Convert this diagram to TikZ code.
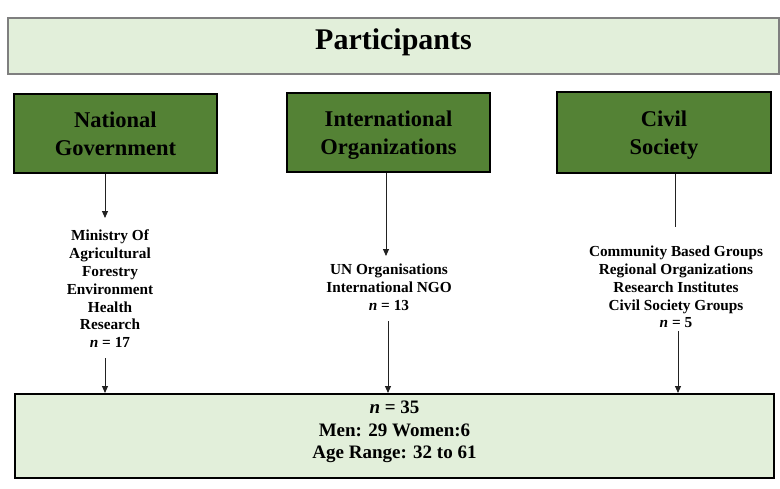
\documentclass[tikz,border=0pt]{standalone}
\usepackage{fontspec}
\setmainfont{Liberation Serif}
\usetikzlibrary{arrows.meta}
\definecolor{paleg}{HTML}{E2EFDA}
\definecolor{darkg}{HTML}{548235}
\definecolor{edgegray}{HTML}{7F7F7F}
\definecolor{linec}{HTML}{222222}
\tikzset{
  titlebox/.style={draw=edgegray, line width=1.4pt, fill=paleg, minimum width=771pt, minimum height=56pt, inner sep=0pt},
  groupbox/.style={draw=black, line width=2pt, fill=darkg, minimum height=79pt, inner sep=0pt, align=center,
     text depth=0pt, font=\fontsize{22.5}{28}\selectfont\bfseries},
  listtext/.style={align=center, inner sep=0pt, font=\fontsize{15.3}{17.8}\selectfont\bfseries},
  totalbox/.style={draw=black, line width=2pt, fill=paleg, minimum width=759pt, minimum height=84pt, inner sep=0pt,
     align=center, font=\fontsize{19}{22.5}\selectfont\bfseries},
  arr/.style={draw=linec, line width=0.9pt, -{Triangle[width=6pt,length=7pt]}},
  plain/.style={draw=linec, line width=0.9pt}
}
\begin{document}
\begin{tikzpicture}[x=1pt,y=-1pt]
\useasboundingbox (0,0) rectangle (780,488);
\fill[white] (0,0) rectangle (780,488);

\node[titlebox, text height=20pt, text depth=14pt, font=\fontsize{30}{34}\selectfont\bfseries] (title) at (393.5,46) {Participants};

\node[groupbox, minimum width=203pt] (nat) at (115.5,133.5) {National\\Government};
\node[groupbox, minimum width=203pt] (intl) at (388.5,132.5) {International\\Organizations};
\node[groupbox, minimum width=214pt, minimum height=81pt] (civ) at (664,132.5) {Civil\\Society};

\node[listtext] (natlist) at (110,289) {Ministry Of\\Agricultural\\Forestry\\Environment\\Health\\Research\\\textit{n} = 17};
\node[listtext] (intlist) at (389,287) {UN Organisations\\International NGO\\\textit{n} = 13};
\node[listtext] (civlist) at (676,287) {Community Based Groups\\Regional Organizations\\Research Institutes\\Civil Society Groups\\\textit{n} = 5};

\node[totalbox, text depth=12pt] (total) at (394.5,436) {\textit{n} = 35\\Men: 29 Women:6\\Age Range: 32 to 61};

\coordinate (n1) at (105,218);
\coordinate (n2) at (105,358);
\coordinate (i1) at (386,256);
\coordinate (i2) at (388,321);
\coordinate (c1) at (675,227);
\coordinate (c2) at (678,331);

\draw[arr] (nat.south -| n1) -- (n1);
\draw[arr] (n2) -- (total.north -| n2);
\draw[arr] (intl.south -| i1) -- (i1);
\draw[arr] (i2) -- (total.north -| i2);
\draw[plain] (civ.south -| c1) -- (c1);
\draw[arr] (c2) -- (total.north -| c2);
\end{tikzpicture}
\end{document}
